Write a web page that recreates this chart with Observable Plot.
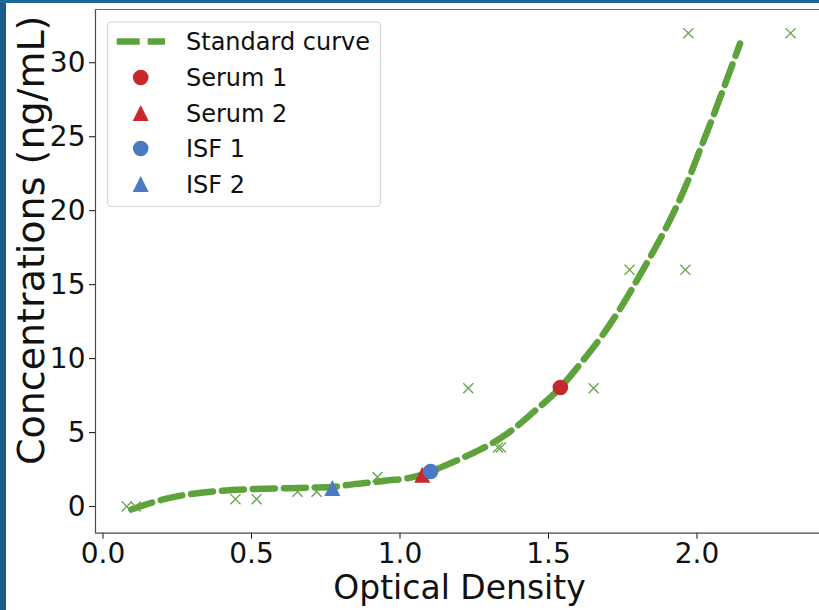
<!DOCTYPE html>
<html>
<head>
<meta charset="utf-8">
<script src="https://cdn.jsdelivr.net/npm/d3@7"></script>
<script src="https://cdn.jsdelivr.net/npm/@observablehq/plot@0.6"></script>
<style>
  html, body { margin: 0; padding: 0; background: #fff; }
  #wrap { position: relative; width: 819px; height: 610px; overflow: hidden; }
  .edge { position: absolute; }
</style>
</head>
<body>
<div id="wrap"></div>
<script>
// ---------- data ----------
const stdOD   = [0.080, 0.110, 0.446, 0.517, 0.655, 0.719, 0.924, 1.230, 1.330, 1.340, 1.652, 1.773, 1.961, 1.971, 2.315];
const stdConc = [0, 0, 0.5, 0.5, 1, 1, 2, 8, 4, 4, 8, 16, 16, 32, 32];

const curveOD   = [0.095, 0.165, 0.21, 0.28, 0.39, 0.50, 0.60, 0.70, 0.77, 0.84, 0.95, 1.06, 1.10, 1.17, 1.24, 1.305, 1.366, 1.45, 1.54, 1.613, 1.675, 1.742, 1.815, 1.871, 1.922, 1.967, 2.006, 2.051, 2.090, 2.145];
const curveConc = [-0.2, 0.27, 0.52, 0.80, 1.06, 1.18, 1.24, 1.28, 1.32, 1.50, 1.74, 2.07, 2.35, 2.93, 3.56, 4.22, 5.0, 6.4, 8.05, 9.8, 11.4, 13.4, 15.9, 17.9, 19.9, 21.9, 23.9, 26.2, 28.3, 31.3];

const sampleNames  = ["Serum 1", "Serum 2", "ISF 1", "ISF 2"];
const sampleOD     = [1.540, 1.075, 1.103, 0.772];
const sampleConc   = [8.05, 2.15, 2.37, 1.25];
const sampleShapes = ["circle", "triangle", "circle", "triangle"];
const sampleColors = ["#c8282d", "#c8282d", "#4a7bc2", "#4a7bc2"];

const xTicks = [0, 0.5, 1.0, 1.5, 2.0];
const yTicks = [0, 5, 10, 15, 20, 25, 30];
const xLabel = "Optical Density";
const yLabel = "Concentrations (ng/mL)";
const legendLabels = ["Standard curve", ...sampleNames];

// ---------- tables ----------
const standards = stdOD.map((v, i) => ({od: v, conc: stdConc[i]}));
const curve = curveOD.map((v, i) => ({od: v, conc: curveConc[i]}));
const samples = sampleNames.map((n, i) => ({name: n, od: sampleOD[i], conc: sampleConc[i], shape: sampleShapes[i], color: sampleColors[i]}));

const green = "#5ea23c";
const xGreen = "#66a349";

// matplotlib-like "^" triangle (bbox centred)
const mplTriangle = {
  draw(context, size) {
    const r = Math.sqrt(size / Math.PI);
    context.moveTo(0, -r);
    context.lineTo(r, r);
    context.lineTo(-r, r);
    context.closePath();
  }
};

const xDomain = [-0.0253, 2.4125];
const yDomain = [-1.8, 33.6];

const sampleMarks = samples.map(s => Plot.dot([s], {
  x: "od", y: "conc",
  symbol: s.shape === "circle" ? "circle" : mplTriangle,
  r: s.shape === "circle" ? 7.8 : 8,
  fill: s.color, stroke: "none"
}));

const chart = Plot.plot({
  width: 819,
  height: 610,
  marginLeft: 95,
  marginRight: 0,
  marginTop: 9,
  marginBottom: 77.3,
  style: {fontFamily: "DejaVu Sans", fontSize: "28px", color: "#111", background: "transparent", overflow: "visible"},
  x: {domain: xDomain, ticks: xTicks, tickFormat: d3.format(".1f"), label: null, tickSize: 6, tickPadding: 4},
  y: {domain: yDomain, ticks: yTicks, tickFormat: d3.format("d"), label: null, tickSize: 6, tickPadding: 4},
  marks: [
    Plot.ruleX([xDomain[0]], {stroke: "#4a4a4a", strokeWidth: 1.2}),
    Plot.ruleY([yDomain[0]], {stroke: "#4a4a4a", strokeWidth: 1.2}),
    Plot.ruleY([yDomain[1]], {stroke: "#6a6a6a", strokeWidth: 1.2}),
    Plot.line(curve, {x: "od", y: "conc", stroke: green, strokeWidth: 6.5, strokeDasharray: "22,9", curve: "monotone-x"}),
    Plot.dot(standards, {x: "od", y: "conc", symbol: "times", r: 4.65, stroke: xGreen, strokeWidth: 1.3}),
    ...sampleMarks,
    Plot.text([xLabel], {frameAnchor: "bottom", textAnchor: "middle", lineAnchor: "middle", dx: 2, dy: 55, fontSize: 33, fill: "#111"}),
    Plot.text([yLabel], {frameAnchor: "left", textAnchor: "middle", lineAnchor: "middle", rotate: -90, dx: -64, dy: -31, fontSize: 38, fill: "#111"})
  ]
});

document.getElementById("wrap").appendChild(chart);

// ---------- legend ----------
const svg = d3.select(chart);
const lg = svg.append("g").attr("font-family", "DejaVu Sans").attr("font-size", 24).attr("text-anchor", "start");
lg.append("rect").attr("x", 107.5).attr("y", 22).attr("width", 273).attr("height", 184.5)
  .attr("rx", 4).attr("fill", "rgba(255,255,255,0.85)").attr("stroke", "#d4d4d4").attr("stroke-width", 1.2);
const rowY = [41.5, 77.5, 113, 148.5, 184];
const baseY = [50, 86, 121.7, 156.9, 192.7];
lg.append("line").attr("x1", 116.7).attr("x2", 165).attr("y1", rowY[0]).attr("y2", rowY[0])
  .attr("stroke", green).attr("stroke-width", 6.5).attr("stroke-dasharray", "23,8");
samples.forEach((s, i) => {
  const cy = rowY[i + 1], cx = 140.7;
  if (s.shape === "circle") {
    lg.append("circle").attr("cx", cx).attr("cy", cy).attr("r", 7.8).attr("fill", s.color);
  } else {
    const r = 8;
    lg.append("path").attr("d", `M${cx},${cy - r}L${cx + r},${cy + r}L${cx - r},${cy + r}Z`).attr("fill", s.color);
  }
});
legendLabels.forEach((t, i) => {
  lg.append("text").attr("x", 186).attr("y", baseY[i]).attr("text-anchor", "start").attr("fill", "#111").text(t);
});

// image edges
const wrap = document.getElementById("wrap");
const l = document.createElement("div"); l.className = "edge";
l.style.cssText = "left:0;top:0;width:6px;height:610px;background:#1d5b89";
const t = document.createElement("div"); t.className = "edge";
t.style.cssText = "left:0;top:0;width:819px;height:3px;background:#1b6b98";
wrap.appendChild(l); wrap.appendChild(t);
</script>
</body>
</html>
